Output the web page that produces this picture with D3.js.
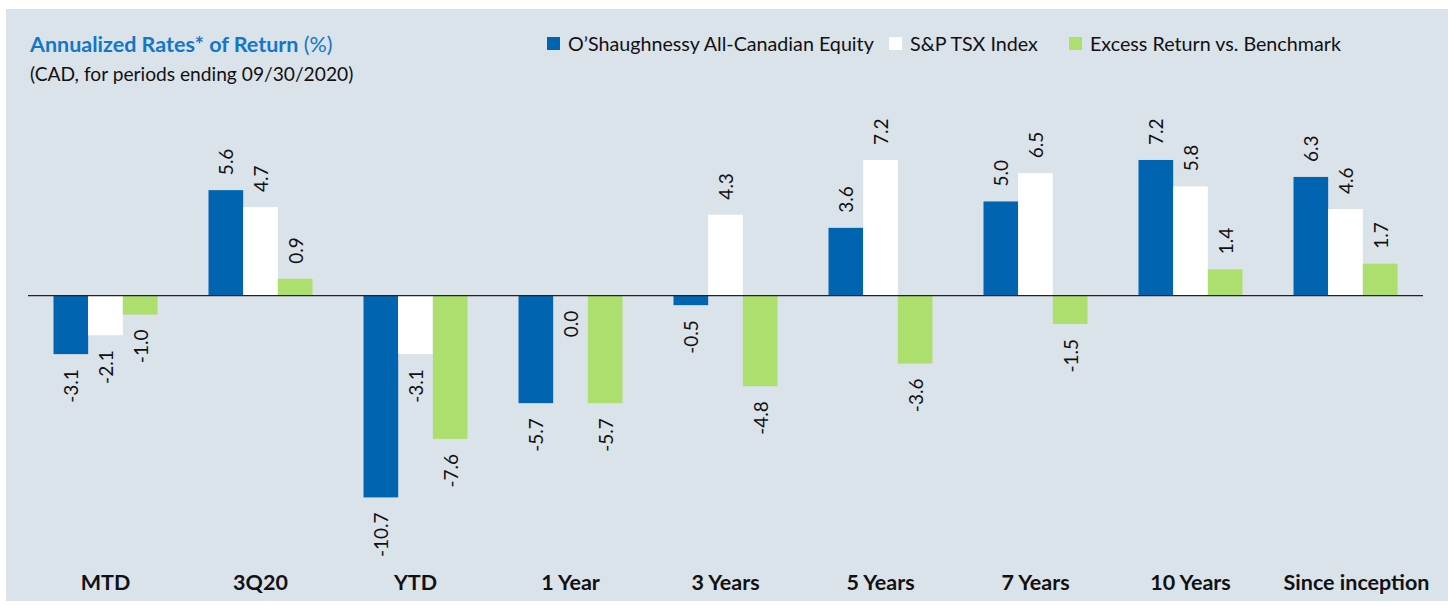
<!DOCTYPE html>
<html>
<head>
<meta charset="utf-8">
<script src="https://cdn.jsdelivr.net/npm/d3@7"></script>
<style>
  body { margin: 0; background: #fff; }
  svg text { font-family: Lato, "Open Sans", sans-serif; }
</style>
</head>
<body>
<script>
const categories = ["MTD", "3Q20", "YTD", "1 Year", "3 Years", "5 Years", "7 Years", "10 Years", "Since inception"];
const seriesNames = ["O\u2019Shaughnessy All-Canadian Equity", "S&P TSX Index", "Excess Return vs. Benchmark"];
const fundValues = [-3.1, 5.6, -10.7, -5.7, -0.5, 3.6, 5.0, 7.2, 6.3];
const indexValues = [-2.1, 4.7, -3.1, 0.0, 4.3, 7.2, 6.5, 5.8, 4.6];
const excessValues = [-1.0, 0.9, -7.6, -5.7, -4.8, -3.6, -1.5, 1.4, 1.7];
const colors = ["#0064b1", "#ffffff", "#addf6e"];

const w = 1448, h = 606;
const seriesValues = [fundValues, indexValues, excessValues];
const data = categories.map((c, i) => ({
    cat: c,
    vals: seriesValues.map((s, j) => ({ key: seriesNames[j], v: s[i], j: j }))
}));

const svg = d3.select("body").append("svg")
    .attr("width", w)
    .attr("height", h);

svg.append("rect")
    .attr("x", 6).attr("y", 9)
    .attr("width", w - 6).attr("height", 592)
    .attr("fill", "#dae2ea");

const xScale = d3.scaleBand()
    .domain(categories)
    .range([28, 1423]);
const groupW = 104;
const x1 = d3.scaleBand()
    .domain(seriesNames)
    .range([(xScale.bandwidth() - groupW) / 2, (xScale.bandwidth() + groupW) / 2]);
const yScale = d3.scaleLinear()
    .domain([-12, 8])
    .range([295.7 + 12 * 18.85, 295.7 - 8 * 18.85]);

// title
const title = svg.append("text")
    .attr("x", 30).attr("y", 52)
    .attr("font-size", 21.5)
    .attr("fill", "#1276c9");
title.append("tspan").attr("font-weight", "bold").text("Annualized Rates* of Return ");
title.append("tspan").text("(%)");
svg.append("text")
    .attr("x", 30).attr("y", 81)
    .attr("font-size", 19.2)
    .attr("fill", "#111")
    .text("(CAD, for periods ending 09/30/2020)");

// legend
const legendX = [547, 889, 1069];
const legend = svg.selectAll(".legend")
    .data(seriesNames)
    .enter().append("g")
    .attr("transform", (d, i) => "translate(" + legendX[i] + ",37)");
legend.append("rect")
    .attr("width", 13).attr("height", 13)
    .attr("fill", (d, i) => colors[i]);
legend.append("text")
    .attr("x", 21).attr("y", 13.5)
    .attr("font-size", 19.7)
    .attr("fill", "#111")
    .text(d => d);

// bars
const groups = svg.selectAll(".grp")
    .data(data)
    .enter().append("g")
    .attr("transform", d => "translate(" + xScale(d.cat) + ",0)");

groups.selectAll("rect")
    .data(d => d.vals)
    .enter().append("rect")
    .attr("x", d => x1(d.key))
    .attr("width", x1.bandwidth())
    .attr("y", d => yScale(Math.max(0, d.v)))
    .attr("height", d => Math.abs(yScale(d.v) - yScale(0)))
    .attr("fill", d => colors[d.j]);

groups.selectAll(".lbl")
    .data(d => d.vals)
    .enter().append("text")
    .attr("class", "lbl")
    .attr("font-family", "'Open Sans', sans-serif")
    .attr("font-size", 19)
    .attr("fill", "#111")
    .attr("dominant-baseline", "central")
    .attr("text-anchor", d => d.v > 0 ? "start" : "end")
    .attr("transform", d => {
        const cx = x1(d.key) + x1.bandwidth() / 2;
        const cy = d.v > 0 ? yScale(d.v) - 15 : yScale(Math.min(0, d.v)) + 15;
        return "translate(" + cx + "," + cy + ") rotate(-90)";
    })
    .text(d => d.v.toFixed(1));

// zero line
svg.append("line")
    .attr("x1", 28).attr("x2", 1423)
    .attr("y1", yScale(0)).attr("y2", yScale(0))
    .attr("stroke", "#222")
    .attr("stroke-width", 1.2);

// category labels (last one sits a little right of its band in the original)
svg.selectAll(".cat")
    .data(categories)
    .enter().append("text")
    .attr("x", d => xScale(d) + xScale.bandwidth() / 2)
    .attr("dx", (d, i) => i === categories.length - 1 ? 11 : 0)
    .attr("y", 590)
    .attr("text-anchor", "middle")
    .attr("font-size", 21.5)
    .attr("font-weight", "bold")
    .attr("fill", "#111")
    .text(d => d);
</script>
</body>
</html>
